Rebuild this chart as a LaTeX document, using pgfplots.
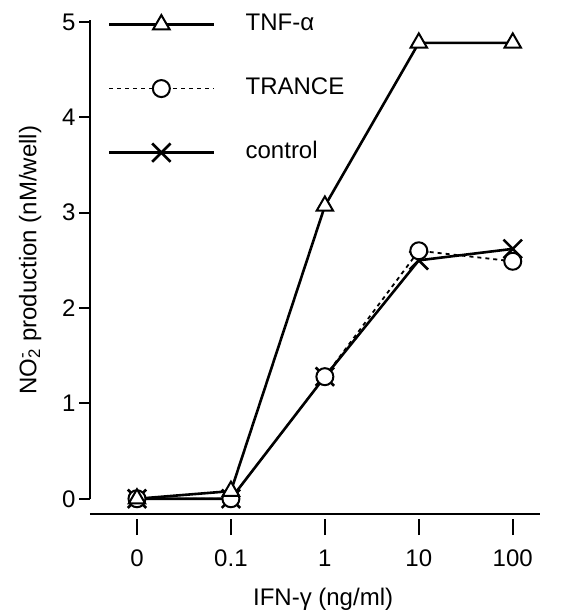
\documentclass[border=0pt]{standalone}
\usepackage{pgfplots}
\pgfplotsset{compat=1.18}
\usepackage{fontspec}
\setmainfont{Liberation Sans}

\newcommand{\chartfont}{\fontsize{24}{28}\selectfont}

\begin{document}
\begin{tikzpicture}[x=1pt,y=1pt]
\useasboundingbox (0,0) rectangle (565,614);
\begin{axis}[
    at={(90pt,100pt)}, anchor=south west,
    scale only axis, width=450pt, height=494pt,
    xmin=-0.5, xmax=4.29,
    ymin=-0.16, ymax=5.02,
    axis x line=bottom, axis y line=left,
    axis line style={-, line width=2.6pt},
    y axis line style={shorten <=15pt},
    xtick={0,1,2,3,4},
    xticklabels={0,0.1,1,10,100},
    ytick={0,1,2,3,4,5},
    tick align=outside,
    major tick length=11pt,
    x tick style={/pgfplots/major tick length=16pt, yshift=-5pt},
    tick style={line width=2pt, black},
    /pgf/number format/assume math mode=true,
    tick label style={font=\chartfont},
    label style={font=\chartfont},
    xticklabel style={yshift=-21pt},
    xlabel={IFN-γ (ng/ml)},
    ylabel={NO\rlap{\textsuperscript{-}}\textsubscript{2} production (nM/well)},
    xlabel style={at={(axis description cs:0.518,-0.173)}, anchor=center},
    ylabel style={at={(axis description cs:-0.133,0.514)}, anchor=center},
    clip=false,
    reverse legend,
    legend style={at={(axis cs:-0.31,5.1)}, anchor=north west,
        draw=none, fill=none, row sep=40pt, inner sep=0pt,
        font=\chartfont,
        nodes={inner sep=0pt, text height=18pt, text depth=6pt},
        /tikz/every odd column/.append style={column sep=30pt},
        cells={anchor=west}},
    legend image code/.code={
        \draw[mark repeat=2, mark phase=2, #1]
            plot coordinates {(0pt,0pt) (52pt,0pt) (105pt,0pt)};
    },
]

% control (drawn first, lies underneath)
\addplot[black, line width=2.6pt, mark=x, mark size=13pt,
    mark options={line width=2.6pt}]
    coordinates {(0,0) (1,0) (2,1.28) (3,2.5) (4,2.62)};
\addlegendentry{control}

% TRANCE
\addplot[black, line width=1.8pt, dash pattern=on 4pt off 4pt, mark=*, mark size=8.5pt,
    mark options={fill=white, line width=2pt, solid}]
    coordinates {(0,0) (1,0) (2,1.28) (3,2.6) (4,2.49)};
\addlegendentry{TRANCE}

% TNF-alpha
\addplot[black, line width=2.6pt, mark=triangle*, mark size=9.5pt,
    mark options={fill=white, line width=2pt, solid}]
    coordinates {(0,0) (1,0.08) (2,3.07) (3,4.78) (4,4.78)};
\addlegendentry{TNF-α}

\end{axis}
\end{tikzpicture}
\end{document}
